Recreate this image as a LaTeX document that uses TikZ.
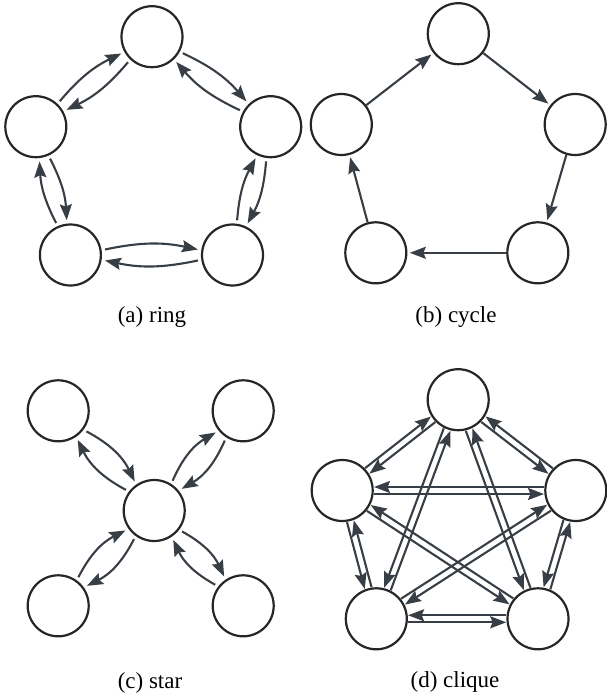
\documentclass[tikz,border=0pt]{standalone}
\usepackage{fontspec}
\setmainfont{Liberation Serif}
\usepackage{tikz}
\usetikzlibrary{arrows.meta}
\usetikzlibrary{calc}
\definecolor{nodeline}{HTML}{262626}
\definecolor{edgeline}{HTML}{383E45}
% one arrow of a clique pair, offset to the right or to the left of its direction
\newcommand{\rside}[2]{\draw[cliqedge] ($(#1)!16pt!-6.3:(#2)$) -- ($(#2)!16pt!6.3:(#1)$);}
\newcommand{\lside}[2]{\draw[cliqedge] ($(#1)!16pt!6.3:(#2)$) -- ($(#2)!16pt!-6.3:(#1)$);}
% one bent arrow of a ring/star pair, leaving a little left of the centre line
\newcommand{\bentarrow}[4]{\draw[edgebase] ($(#1)!17.5pt!#3:(#2)$) to[bend left=#4] ($(#2)!17.5pt!-#3:(#1)$);}

\begin{document}
\begin{tikzpicture}[x=0.5pt,y=-0.5pt,>={Stealth[length=8pt,width=6pt,inset=1.2pt]},
	vertex/.style={circle,draw=nodeline,line width=1.1pt,minimum size=30.5pt,inner sep=0pt},
	edgebase/.style={->,draw=edgeline,line width=1.05pt},
	cycedge/.style={edgebase,shorten >=1.2pt},
	cliqedge/.style={edgebase},
	subcap/.style={font=\fontsize{11.5}{14}\selectfont}
	]
	\useasboundingbox (0,0) rectangle (606,696);

	% (a) ring
	\node[vertex] (a1) at (152,36.7) {};
	\node[vertex] (a2) at (270.7,126.7) {};
	\node[vertex] (a3) at (232.5,255) {};
	\node[vertex] (a4) at (70.4,255) {};
	\node[vertex] (a5) at (35.8,126.7) {};
	\foreach \i/\j in {a1/a2,a2/a3,a3/a4,a4/a5,a5/a1} {
		\bentarrow{\i}{\j}{9}{12}
		\bentarrow{\j}{\i}{9}{12}
	}
	\node[subcap] (capa) at (152,316.5) {(a) ring};

	% (b) cycle
	\node[vertex] (b1) at (458.3,33.7) {};
	\node[vertex] (b2) at (575.2,124.5) {};
	\node[vertex] (b3) at (537.8,252.8) {};
	\node[vertex] (b4) at (375.8,252.8) {};
	\node[vertex] (b5) at (341.3,124.5) {};
	\foreach \i/\j in {b1/b2,b2/b3,b3/b4,b4/b5,b5/b1}
		\draw[cycedge] (\i) -- (\j);
	\node[subcap] (capb) at (456,316.5) {(b) cycle};

	% (c) star
	\node[vertex] (c0) at (154.2,510.5) {};
	\node[vertex] (c1) at (58.2,410.8) {};
	\node[vertex] (c2) at (243.2,410.8) {};
	\node[vertex] (c3) at (243.2,605.8) {};
	\node[vertex] (c4) at (58.2,605.8) {};
	\foreach \k in {c1,c2,c3,c4} {
		\bentarrow{c0}{\k}{10}{18}
		\bentarrow{\k}{c0}{10}{18}
	}
	\node[subcap] (capc) at (150,682.5) {(c) star};

	% (d) clique
	\node[vertex] (d1) at (458.2,399.7) {};
	\node[vertex] (d2) at (575.8,490.5) {};
	\node[vertex] (d3) at (538,618.8) {};
	\node[vertex] (d4) at (376.3,618.8) {};
	\node[vertex] (d5) at (342.2,490.5) {};
	\foreach \p/\q in {d1/d2,d2/d5,d3/d4,d5/d4,d2/d3,d1/d4,d1/d3,d5/d3} {
		\rside{\p}{\q}
		\rside{\q}{\p}
	}
	\foreach \p/\q in {d1/d5,d2/d4} {
		\lside{\p}{\q}
		\lside{\q}{\p}
	}
	\node[subcap] (capd) at (455,682) {(d) clique};
\end{tikzpicture}
\end{document}
